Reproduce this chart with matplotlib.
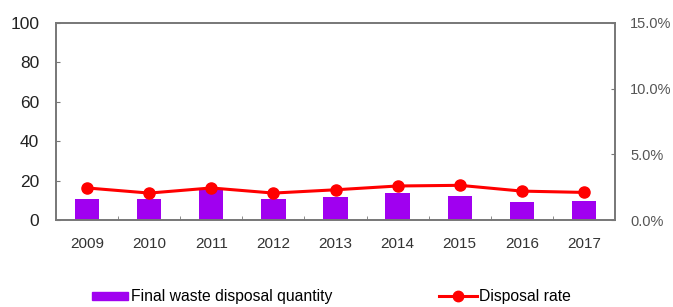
import matplotlib
matplotlib.use("Agg")
import matplotlib.pyplot as plt
from matplotlib.ticker import FuncFormatter, FixedLocator
from matplotlib.lines import Line2D
from matplotlib.patches import Patch
import numpy as np

years = ["2009", "2010", "2011", "2012", "2013", "2014", "2015", "2016", "2017"]
quantity = [10.7, 10.7, 15.5, 10.7, 11.7, 13.7, 12.2, 9.1, 9.6]
rate_pct = [2.44, 2.05, 2.44, 2.05, 2.3, 2.59, 2.64, 2.2, 2.1]
left_ticks = [0, 20, 40, 60, 80, 100]
right_ticks = [0, 5, 10, 15]

plt.rcParams['font.family'] = ['Liberation Sans', 'DejaVu Sans']

fig = plt.figure(figsize=(6.73, 3.07), dpi=100)
ax = fig.add_axes([56/673, 1 - 220/307, 559/673, 197/307])
ax2 = ax.twinx()

x = np.arange(len(years))
bar_color = "#A000F0"
line_color = "#FF0000"
ax.bar(x, quantity, width=0.39, color=bar_color, zorder=2)
ax2.plot(x, rate_pct, color=line_color, lw=2.2, marker="o", ms=8, zorder=3)

ax.set_xlim(-0.5, len(years) - 0.5)
ax.set_ylim(0, 100)
ax2.set_ylim(0, 15)
ax.set_yticks(left_ticks)
ax2.set_yticks(right_ticks)
ax2.yaxis.set_major_formatter(FuncFormatter(lambda v, p: f"{v:.1f}%"))

ax.set_xticks(x)
ax.set_xticklabels(years, fontsize=11, color="#333333")
ax.xaxis.set_minor_locator(FixedLocator(np.arange(0.5, len(years) - 1, 1)))
ax.tick_params(axis="x", which="major", length=0, pad=12)
ax.tick_params(axis="x", which="minor", direction="in", length=3, color="#777777")
ax.tick_params(axis="y", direction="in", length=3, color="#777777", labelsize=12.5, labelcolor="#222222", pad=12)
ax2.tick_params(axis="y", direction="in", length=3, color="#777777", labelsize=10.5, labelcolor="#555555", pad=11)

for a in (ax, ax2):
    for s in a.spines.values():
        s.set_color("#777777")
        s.set_linewidth(1.2)

h1 = Patch(color=bar_color)
h2 = Line2D([0], [0], color=line_color, lw=2.2, marker="o", ms=7.5)
fig.legend([h1], ["Final waste disposal quantity"], loc="center left",
           bbox_to_anchor=(78/673, 1 - 297/307), frameon=False, fontsize=11.3,
           handlelength=2.3, handleheight=0.4, handletextpad=0.2)
fig.legend([h2], ["Disposal rate"], loc="center left",
           bbox_to_anchor=(425/673, 1 - 297/307), frameon=False, fontsize=11.3,
           handlelength=2.4, handletextpad=0.15)

fig.savefig("out.png", dpi=100)
